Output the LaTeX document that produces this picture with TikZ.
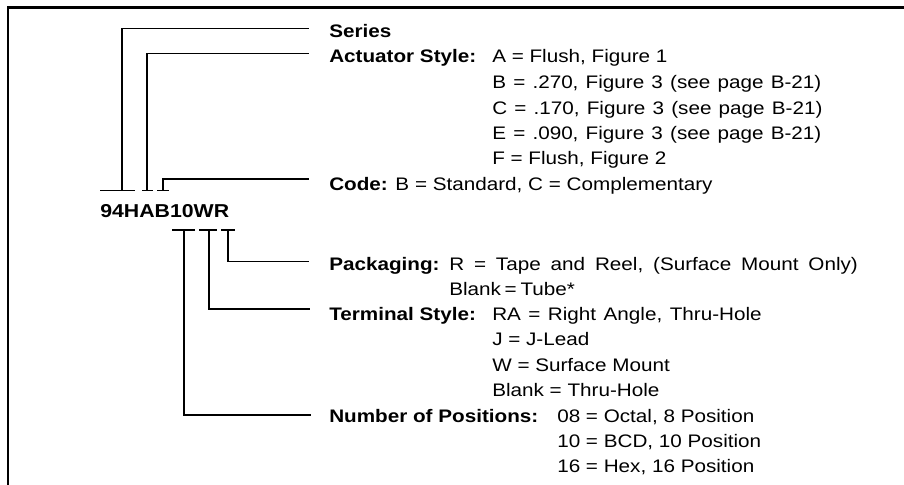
\documentclass[tikz,border=0pt]{standalone}
\usepackage{fontspec}
\setmainfont[FakeStretch=1.14]{Liberation Sans}
\begin{document}
\begin{tikzpicture}[x=0.75pt,y=-0.75pt,
  val/.style={anchor=base west, inner sep=0pt, font=\fontsize{13.6}{16}\selectfont},
  lbl/.style={anchor=base west, inner sep=0pt, font=\fontsize{13.6}{16}\selectfont\bfseries},
  conn/.style={line width=0.85pt},
  frame/.style={line width=1.9pt}]
\useasboundingbox (0,0) rectangle (904,485);
\draw[frame] (8,485) -- (8,7.5) -- (904,7.5);

% part number
\node[lbl, font=\fontsize{14}{16}\selectfont\bfseries] (pn) at (100,217) {94HAB10WR};

% labels and values
\node[lbl] (series) at (329,37.5) {Series};
\node[lbl] (act) at (329,63) {Actuator Style:};
\node[val] (a1) at (492,63) {A = Flush, Figure 1};
\node[val] (a2) at (492,88.5) {\spaceskip=5.4pt B = .270, Figure 3 (see page B-21)};
\node[val] (a3) at (492,114) {\spaceskip=5.4pt C = .170, Figure 3 (see page B-21)};
\node[val] (a4) at (492,139.5) {\spaceskip=5.4pt E = .090, Figure 3 (see page B-21)};
\node[val] (a5) at (492,165) {F = Flush, Figure 2};
\node[val] (code) at (329,190.5) {\textbf{Code:} B = Standard, C = Complementary};
\node[lbl] (pack) at (329,270) {Packaging:};
\node[val] (p1) at (449,270) {\spaceskip=7.4pt R = Tape and Reel, (Surface Mount Only)};
\node[val] (p2) at (449,295.3) {\spaceskip=2.8pt Blank = Tube*};
\node[lbl] (term) at (329,320) {Terminal Style:};
\node[val] (t1) at (492,320) {\spaceskip=5.6pt RA = Right Angle, Thru-Hole};
\node[val] (t2) at (492,345.5) {J = J-Lead};
\node[val] (t3) at (492,371) {W = Surface Mount};
\node[val] (t4) at (492,396.5) {Blank = Thru-Hole};
\node[lbl] (num) at (329,422) {Number of Positions:};
\node[val] (n1) at (557,422) {08 = Octal, 8 Position};
\node[val] (n2) at (557,447.3) {10 = BCD, 10 Position};
\node[val] (n3) at (557,472.5) {16 = Hex, 16 Position};

% tick coordinates (upper)
\coordinate (u1a) at (100,190.7); \coordinate (u1b) at (135,190.7); \coordinate (u1) at (122,190.7);
\coordinate (u2a) at (142,190.7); \coordinate (u2b) at (153,190.7); \coordinate (u2) at (147,190.7);
\coordinate (u3a) at (157,190.7); \coordinate (u3b) at (169,190.7); \coordinate (u3) at (163,190.7);
% tick coordinates (lower)
\coordinate (l1a) at (172,230); \coordinate (l1b) at (195,230); \coordinate (l1) at (184,230);
\coordinate (l2a) at (199,230); \coordinate (l2b) at (217,230); \coordinate (l2) at (209,230);
\coordinate (l3a) at (221,230); \coordinate (l3b) at (235,230); \coordinate (l3) at (228,230);
% line ends
\coordinate (eS) at (309,28.5);
\coordinate (eA) at (309,53.5);
\coordinate (eC) at (309,179);
\coordinate (eP) at (309,261.5);
\coordinate (eT) at (310,309);
\coordinate (eN) at (311,415);

\draw[conn] (u1a) -- (u1b);
\draw[conn] (u2a) -- (u2b);
\draw[conn] (u3a) -- (u3b);
\draw[conn] (l1a) -- (l1b);
\draw[conn] (l2a) -- (l2b);
\draw[conn] (l3a) -- (l3b);

\draw[conn] (u1) |- (eS);
\draw[conn] (u2) |- (eA);
\draw[conn] (u3) |- (eC);
\draw[conn] (l3) |- (eP);
\draw[conn] (l2) |- (eT);
\draw[conn] (l1) |- (eN);
\end{tikzpicture}
\end{document}
